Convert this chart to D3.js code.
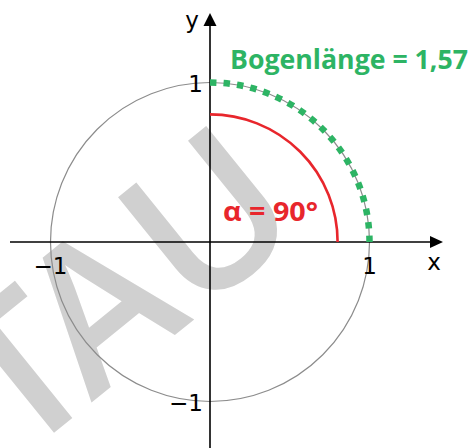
<!DOCTYPE html>
<html>
<head>
<meta charset="utf-8">
<script src="https://cdn.jsdelivr.net/npm/d3@7"></script>
<style>
  body { margin: 0; background: #fff; }
  svg { display: block; }
</style>
</head>
<body>
<svg id="chart"></svg>
<script>
// data
let tickValues = [-1, 1];
let tickLabels = ["\u22121", "1"];
let angleDeg = [90];
let arcLengthLabel = ["Bogenl\u00e4nge = 1,57"];
let angleLabel = ["\u03b1 = 90\u00b0"];
let angleRadius = [0.8];
let watermark = ["T", "AU"];

let width = 470, height = 448;
let cx = 210, cy = 242, r = 159.5;

let svg = d3.select("#chart")
    .attr("width", width)
    .attr("height", height);

let scaleX = d3.scaleLinear().domain([-1, 1]).range([cx - r, cx + r]);
let scaleY = d3.scaleLinear().domain([-1, 1]).range([cy + r, cy - r]);

// watermark, placed so that the "U" centre sits at (207, 217)
let wmSize = 200;
let wm = svg.append("g")
    .attr("transform", "translate(207,217) rotate(-39)")
    .append("text")
    .style("font-family", "'Open Sans', sans-serif")
    .style("font-weight", 600)
    .style("font-size", wmSize + "px")
    .style("fill", "#d0d0d0");
wm.append("tspan").text(watermark[0]);
wm.append("tspan").attr("dx", -20).text(watermark[1]);
let ext = wm.node().getExtentOfChar(2);
wm.attr("x", -(ext.x + ext.width / 2))
  .attr("y", 0.357 * wmSize);

// unit circle
svg.append("circle")
    .attr("cx", scaleX(0))
    .attr("cy", scaleY(0))
    .attr("r", scaleX(1) - scaleX(0))
    .style("fill", "none")
    .style("stroke", "#8c8c8c")
    .style("stroke-width", 1.2);

// axes
let xMin = -1.254, xMax = 1.461, yMin = -1.3, yMax = 1.436;
svg.append("line")
    .attr("x1", scaleX(xMin)).attr("y1", scaleY(0))
    .attr("x2", scaleX(xMax) - 10).attr("y2", scaleY(0))
    .style("stroke", "#000").style("stroke-width", 1.6);
svg.append("path")
    .attr("d", `M${scaleX(xMax)},${scaleY(0)} L${scaleX(xMax) - 13},${scaleY(0) - 6} L${scaleX(xMax) - 13},${scaleY(0) + 6} Z`)
    .style("fill", "#000");

svg.append("line")
    .attr("x1", scaleX(0)).attr("y1", scaleY(yMin))
    .attr("x2", scaleX(0)).attr("y2", scaleY(yMax) + 10)
    .style("stroke", "#000").style("stroke-width", 1.6);
svg.append("path")
    .attr("d", `M${scaleX(0)},${scaleY(yMax)} L${scaleX(0) - 6.5},${scaleY(yMax) + 13} L${scaleX(0) + 6.5},${scaleY(yMax) + 13} Z`)
    .style("fill", "#000");

// tick labels
let tickFont = "'DejaVu Sans', sans-serif";
svg.selectAll(".xtick")
    .data(tickValues)
    .enter()
    .append("text")
    .attr("class", "xtick")
    .attr("x", d => scaleX(d))
    .attr("y", scaleY(0) + 32)
    .attr("text-anchor", "middle")
    .style("font-family", tickFont)
    .style("font-size", "23px")
    .text((d, i) => tickLabels[i]);

svg.selectAll(".ytick")
    .data(tickValues)
    .enter()
    .append("text")
    .attr("class", "ytick")
    .attr("x", scaleX(0) - 7)
    .attr("y", d => scaleY(d) + 9)
    .attr("text-anchor", "end")
    .style("font-family", tickFont)
    .style("font-size", "23px")
    .text((d, i) => tickLabels[i]);

svg.append("text")
    .attr("x", scaleX(xMax) - 9)
    .attr("y", scaleY(0) + 28)
    .attr("text-anchor", "middle")
    .style("font-family", tickFont)
    .style("font-size", "23px")
    .text("x");

svg.append("text")
    .attr("x", scaleX(0) - 18)
    .attr("y", 28)
    .attr("text-anchor", "middle")
    .style("font-family", tickFont)
    .style("font-size", "23px")
    .text("y");

// angle arc (red)
let a = angleDeg[0] * Math.PI / 180;
let redPath = d3.path();
redPath.arc(scaleX(0), scaleY(0), (scaleX(angleRadius[0]) - scaleX(0)), 0, -a, true);
svg.append("path")
    .attr("d", redPath.toString())
    .style("fill", "none")
    .style("stroke", "#e8262c")
    .style("stroke-width", 2.6);

// arc length (green dotted), drawn from top down to x-axis
let greenPath = d3.path();
greenPath.arc(scaleX(0), scaleY(0), r, -a, 0, false);
let arcLen = r * a;
let nDots = 19, dot = 6.5;
let gap = (arcLen - nDots * dot) / (nDots - 1);
svg.append("path")
    .attr("d", greenPath.toString())
    .style("fill", "none")
    .style("stroke", "#2db464")
    .style("stroke-width", 6.5)
    .style("stroke-dasharray", `${dot},${gap}`);

// labels
let labelFont = "'Open Sans', sans-serif";
svg.append("text")
    .attr("x", 230)
    .attr("y", 69)
    .attr("textLength", 238)
    .attr("lengthAdjust", "spacingAndGlyphs")
    .style("font-family", labelFont)
    .style("font-weight", 700)
    .style("font-size", "26px")
    .style("fill", "#2db464")
    .text(arcLengthLabel[0]);

svg.append("text")
    .attr("x", 223)
    .attr("y", 221)
    .attr("textLength", 95)
    .attr("lengthAdjust", "spacingAndGlyphs")
    .style("font-family", labelFont)
    .style("font-weight", 700)
    .style("font-size", "26px")
    .style("fill", "#e8262c")
    .text(angleLabel[0]);
</script>
</body>
</html>
